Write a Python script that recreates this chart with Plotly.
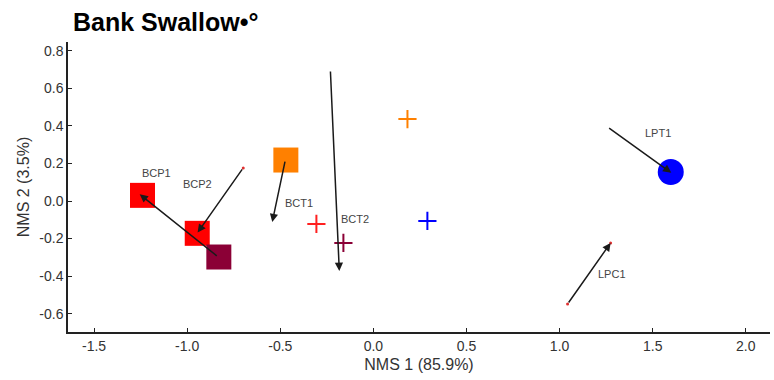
import plotly.graph_objects as go

# Site scores (squares, circle) and species/centroid markers (plus)
square_x = [-1.24, -0.946, -0.83, -0.47]
square_y = [0.03, -0.172, -0.298, 0.218]
square_colors = ["#FF0000", "#FF0000", "#8B0036", "#FF8000"]

plus_x = [-0.306, -0.161, 0.183, 0.29]
plus_y = [-0.122, -0.223, 0.436, -0.106]
plus_colors = ["#FF2020", "#8B0036", "#FF8000", "#0000FF"]

circle_x = [1.597]
circle_y = [0.154]

# Arrows: tail -> head
arrow_tail_x = [-0.833, -0.699, -0.473, -0.231, 1.258, 1.043]
arrow_tail_y = [-0.298, 0.176, 0.218, 0.697, 0.394, -0.548]
arrow_head_x = [-1.255, -0.944, -0.543, -0.183, 1.600, 1.274]
arrow_head_y = [0.036, -0.168, -0.112, -0.372, 0.150, -0.223]

# Small dots at some arrow ends
dot_x = [-0.699, 1.043, 1.274]
dot_y = [0.176, -0.548, -0.223]

# Labels
label_text = ["BCP1", "BCP2", "BCT1", "BCT2", "LPT1", "LPC1"]
label_x = [-1.167, -0.946, -0.40, -0.097, 1.53, 1.28]
label_y = [0.149, 0.09, -0.01, -0.096, 0.36, -0.39]

x_ticks = [-1.5, -1.0, -0.5, 0.0, 0.5, 1.0, 1.5, 2.0]
y_ticks = [-0.6, -0.4, -0.2, 0.0, 0.2, 0.4, 0.6, 0.8]

FONT = "Liberation Sans, Arial"

fig = go.Figure()

fig.add_trace(go.Scatter(
    x=square_x, y=square_y, mode="markers",
    marker=dict(symbol="square", size=25, color=square_colors,
                line=dict(width=0)),
    hoverinfo="skip", showlegend=False))

fig.add_trace(go.Scatter(
    x=circle_x, y=circle_y, mode="markers",
    marker=dict(symbol="circle", size=26, color="#0000FF", line=dict(width=0)),
    hoverinfo="skip", showlegend=False))

fig.add_trace(go.Scatter(
    x=plus_x, y=plus_y, mode="markers",
    marker=dict(symbol="cross-thin", size=13, color=plus_colors,
                line=dict(width=2, color=plus_colors)),
    hoverinfo="skip", showlegend=False))

fig.add_trace(go.Scatter(
    x=dot_x, y=dot_y, mode="markers",
    marker=dict(symbol="circle", size=3, color="#E03030", line=dict(width=0)),
    hoverinfo="skip", showlegend=False))

for tx, ty, hx, hy in zip(arrow_tail_x, arrow_tail_y, arrow_head_x, arrow_head_y):
    fig.add_annotation(
        x=hx, y=hy, ax=tx, ay=ty, xref="x", yref="y", axref="x", ayref="y",
        showarrow=True, arrowhead=2, arrowsize=1.1, arrowwidth=1.5,
        arrowcolor="#1a1a1a", text="")

for t, lx, ly in zip(label_text, label_x, label_y):
    fig.add_annotation(
        x=lx, y=ly, xref="x", yref="y", text=t, showarrow=False,
        font=dict(family=FONT, size=11, color="#444444"))

fig.update_layout(
    width=774, height=380,
    margin=dict(l=68, r=4, t=42, b=48),
    paper_bgcolor="white", plot_bgcolor="white",
    title=dict(text="<b>Bank Swallow•°</b>", x=73/774, xanchor="left",
               y=1 - 22/380, yanchor="middle",
               font=dict(family=FONT, size=25, color="black")),
    xaxis=dict(range=[-1.64, 2.13], tickvals=x_ticks,
               ticktext=[f"{v:.1f}" for v in x_ticks],
               showgrid=False, zeroline=False, showline=True,
               linecolor="#222222", linewidth=1.5, ticks="inside", ticklen=4,
               tickcolor="#222222",
               tickfont=dict(family=FONT, size=14, color="#333333"),
               title=dict(text="NMS 1 (85.9%)", standoff=6,
                          font=dict(family=FONT, size=16, color="#333333"))),
    yaxis=dict(range=[-0.697, 0.846], tickvals=y_ticks,
               ticktext=[f"{v:.1f}" for v in y_ticks],
               showgrid=False, zeroline=False, showline=True,
               linecolor="#222222", linewidth=1.5, ticks="inside", ticklen=4,
               tickcolor="#222222",
               tickfont=dict(family=FONT, size=14, color="#333333"),
               title=dict(text="NMS 2 (3.5%)", standoff=6,
                          font=dict(family=FONT, size=16, color="#333333"))),
)

fig.write_html("out.html")
